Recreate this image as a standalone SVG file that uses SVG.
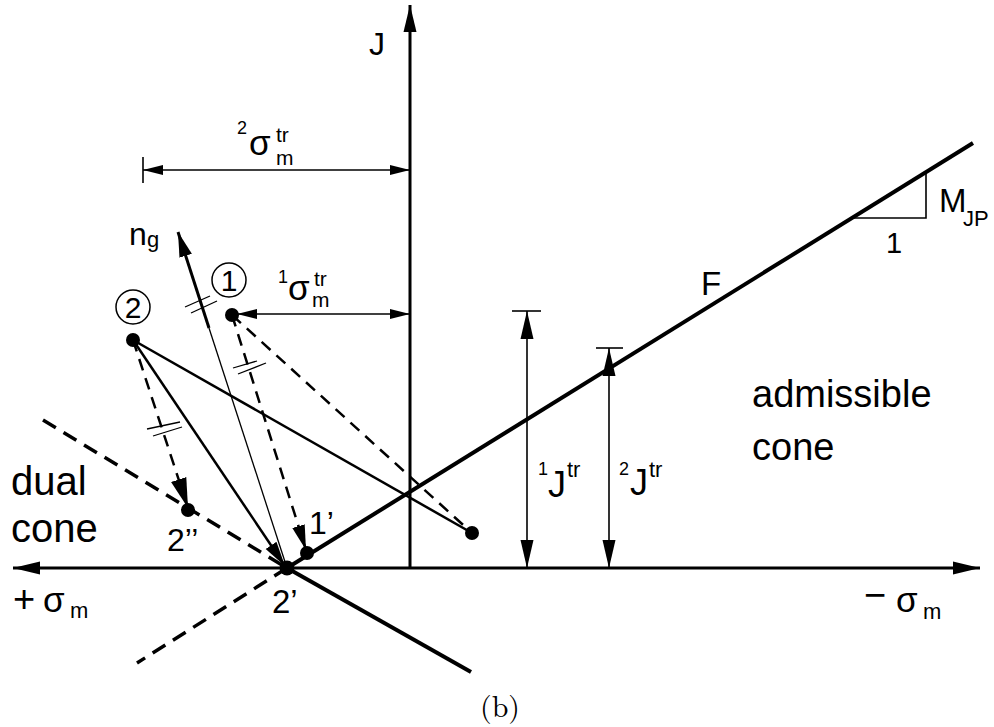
<svg xmlns="http://www.w3.org/2000/svg" width="994" height="727" viewBox="0 0 994 727">
<style>
text { font-family: "Liberation Sans", Arial, sans-serif; fill: #000; }
.ax { stroke: #000; stroke-width: 3; fill: none; }
.thick { stroke: #000; stroke-width: 4; fill: none; }
.med { stroke: #000; stroke-width: 2.5; fill: none; }
.thin { stroke: #000; stroke-width: 1.3; fill: none; }
.dim { stroke: #000; stroke-width: 1.6; fill: none; }
.dash { stroke: #000; stroke-width: 2.5; fill: none; stroke-dasharray: 12 8; }
.dashb { stroke: #000; stroke-width: 3.5; fill: none; stroke-dasharray: 15 9; }
.dot { fill: #000; }
.circ { stroke: #000; stroke-width: 1.5; fill: none; }
.cap { font-family: "Latin Modern Roman", "DejaVu Serif", "Liberation Serif", serif; }
</style>
<defs>
<marker id="m-axis" markerUnits="userSpaceOnUse" markerWidth="30" markerHeight="16" viewBox="0 -8 30 16" refX="27" refY="0" orient="auto-start-reverse"><path d="M0,-6.5 L27,0 L0,6.5 z" fill="#000"/></marker>
<marker id="m-dim" markerUnits="userSpaceOnUse" markerWidth="24" markerHeight="12" viewBox="0 -6 24 12" refX="20" refY="0" orient="auto-start-reverse"><path d="M0,-5 L20,0 L0,5 z" fill="#000"/></marker>
<marker id="m-jdim" markerUnits="userSpaceOnUse" markerWidth="30" markerHeight="16" viewBox="0 -8 30 16" refX="28" refY="0" orient="auto-start-reverse"><path d="M0,-6.5 L28,0 L0,6.5 z" fill="#000"/></marker>
<marker id="m-arr" markerUnits="userSpaceOnUse" markerWidth="28" markerHeight="16" viewBox="0 -8 28 16" refX="25" refY="0" orient="auto"><path d="M0,-6.5 L25,0 L0,6.5 z" fill="#000"/></marker>
<marker id="m-arr2" markerUnits="userSpaceOnUse" markerWidth="32" markerHeight="20" viewBox="0 -10 32 20" refX="30" refY="0" orient="auto"><path d="M0,-8 L30,0 L0,8 z" fill="#000"/></marker>
</defs>

<g id="connectors">
  <!-- axes -->
  <line class="ax" x1="980" y1="568" x2="13" y2="568" marker-start="url(#m-axis)" marker-end="url(#m-axis)"/>
  <line class="ax" x1="410" y1="568" x2="410" y2="5" marker-end="url(#m-axis)"/>
  <!-- yield line F and dual cone -->
  <line class="thick" x1="287" y1="568" x2="973" y2="143"/>
  <line class="thick" x1="287" y1="568" x2="471" y2="672"/>
  <line class="dashb" x1="43" y1="420" x2="287" y2="568"/>
  <line class="dashb" x1="287" y1="568" x2="137" y2="663"/>
  <polyline class="dim" points="854,218 926,218 926,173"/>
  <!-- dimensions -->
  <line class="dim" x1="143" y1="170" x2="410" y2="170" marker-start="url(#m-dim)" marker-end="url(#m-dim)"/>
  <line class="dim" x1="143" y1="157" x2="143" y2="183"/>
  <line class="dim" x1="237" y1="314" x2="410" y2="314" marker-start="url(#m-dim)" marker-end="url(#m-dim)"/>
  <line class="dim" x1="527" y1="311" x2="527" y2="568" marker-start="url(#m-jdim)" marker-end="url(#m-jdim)"/>
  <line class="dim" x1="512" y1="311" x2="541" y2="311"/>
  <line class="dim" x1="609" y1="348" x2="609" y2="568" marker-start="url(#m-jdim)" marker-end="url(#m-jdim)"/>
  <line class="dim" x1="596" y1="348" x2="623" y2="348"/>
  <!-- n_g -->
  <line class="thin" x1="287" y1="568" x2="209" y2="328"/>
  <line class="ax" x1="209" y1="328" x2="178" y2="232" marker-end="url(#m-arr)"/>
  <!-- projections -->
  <line class="med" x1="133" y1="340" x2="285" y2="566" marker-end="url(#m-arr)"/>
  <line class="med" x1="133" y1="340" x2="472" y2="533"/>
  <line class="dash" x1="133" y1="340" x2="188" y2="508" marker-end="url(#m-arr2)"/>
  <line class="dash" x1="232" y1="315" x2="306" y2="550" marker-end="url(#m-arr)"/>
  <line class="dash" x1="232" y1="315" x2="472" y2="533"/>
  <!-- parallel marks -->
  <line class="thin" x1="185" y1="307" x2="210" y2="296"/>
  <line class="thin" x1="191" y1="313" x2="217" y2="301"/>
  <line class="thin" x1="233" y1="368" x2="257" y2="361"/>
  <line class="thin" x1="238" y1="374" x2="266" y2="363"/>
  <line class="thin" x1="147" y1="429" x2="180" y2="422"/>
  <line class="thin" x1="153" y1="436" x2="182" y2="427"/>
</g>

<g id="node-1">
  <circle class="dot" cx="232" cy="315" r="7"/>
  <circle class="circ" cx="229" cy="280" r="17"/>
  <text x="229" y="291" font-size="30" text-anchor="middle">1</text>
</g>
<g id="node-2">
  <circle class="dot" cx="133" cy="340" r="7"/>
  <circle class="circ" cx="133" cy="307" r="17"/>
  <text x="133" y="318" font-size="30" text-anchor="middle">2</text>
</g>
<g id="node-2pp">
  <circle class="dot" cx="188" cy="510" r="7"/>
  <text x="167" y="551" font-size="32">2’’</text>
</g>
<g id="node-1p">
  <circle class="dot" cx="307" cy="553" r="7"/>
  <text x="309" y="534" font-size="32">1’</text>
</g>
<g id="node-2p">
  <circle class="dot" cx="287" cy="568" r="7.5"/>
  <text x="272" y="613" font-size="33">2’</text>
</g>
<g id="node-end">
  <circle class="dot" cx="472" cy="533" r="7"/>
</g>

<g id="labels">
  <text x="369" y="55" font-size="32">J</text>
  <text x="237" y="134" font-size="18">2</text>
  <text x="249" y="155" font-size="35">σ</text>
  <text x="276" y="142" font-size="21">tr</text>
  <text x="276" y="165" font-size="21">m</text>
  <text x="278" y="283" font-size="18">1</text>
  <text x="288" y="300" font-size="35">σ</text>
  <text x="314" y="286" font-size="21">tr</text>
  <text x="312" y="307" font-size="21">m</text>
  <text x="129" y="245" font-size="32">n</text>
  <text x="147" y="247" font-size="22">g</text>
  <text x="701" y="295" font-size="33">F</text>
  <text x="939" y="212" font-size="33">M</text>
  <text x="963" y="226" font-size="22">JP</text>
  <text x="886" y="253" font-size="29">1</text>
  <text x="752" y="407" font-size="38">admissible</text>
  <text x="752" y="460" font-size="38">cone</text>
  <text x="11" y="495" font-size="40">dual</text>
  <text x="11" y="542" font-size="40">cone</text>
  <text x="538" y="475" font-size="18">1</text>
  <text x="548" y="497" font-size="36">J</text>
  <text x="567" y="477" font-size="22">tr</text>
  <text x="619" y="475" font-size="18">2</text>
  <text x="630" y="495" font-size="36">J</text>
  <text x="649" y="477" font-size="22">tr</text>
  <text x="13" y="612" font-size="38">+</text>
  <text x="43" y="612" font-size="35">σ</text>
  <text x="70" y="618" font-size="22">m</text>
  <text x="864" y="608" font-size="38">−</text>
  <text x="896" y="612" font-size="35">σ</text>
  <text x="923" y="619" font-size="22">m</text>
  <text class="cap" x="500" y="717" font-size="30" text-anchor="middle">(b)</text>
</g>
</svg>
